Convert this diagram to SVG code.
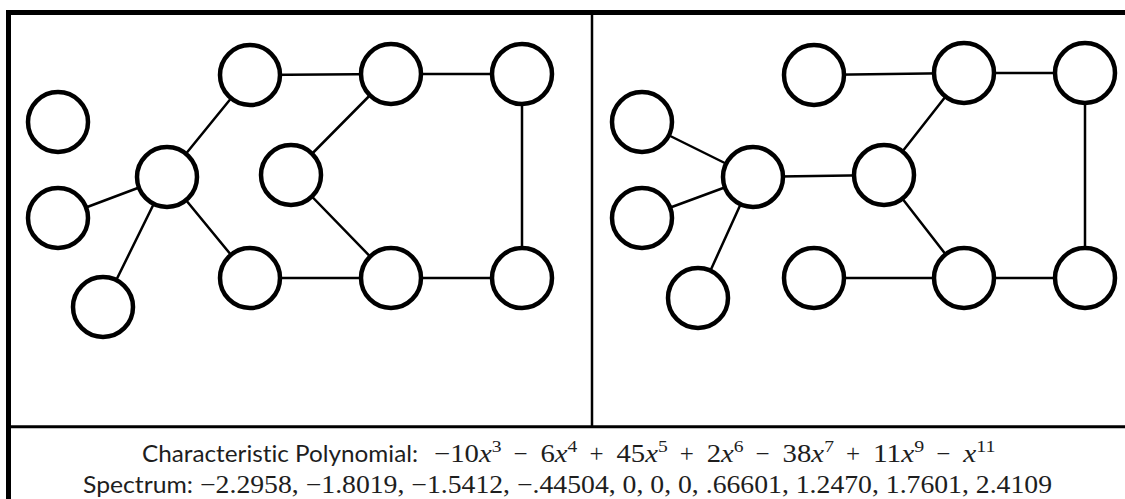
<svg xmlns="http://www.w3.org/2000/svg" width="1125" height="499" viewBox="0 0 1125 499">
<style>
.node{fill:#fff;stroke:#000;stroke-width:4.5}
.edge{stroke:#000;stroke-width:2.5;stroke-linecap:round}
.frame{stroke:#000;fill:none}
.lbl{font-family:Lato,"Open Sans","Liberation Sans",sans-serif;font-size:23px;fill:#1e1e1e;font-variant-ligatures:none}
.math{font-family:"Liberation Serif","DejaVu Serif",serif;font-size:25px;fill:#1e1e1e}
.it{font-style:italic}
.sup{font-size:17px}
</style>
<rect width="1125" height="499" fill="#fff"/>
<g id="frame">
<line class="frame" x1="8.5" y1="10" x2="8.5" y2="499" stroke-width="5"/>
<line class="frame" x1="6" y1="12.5" x2="1125" y2="12.5" stroke-width="5"/>
<line class="frame" x1="8" y1="426.7" x2="1125" y2="426.7" stroke-width="3"/>
<line class="frame" x1="592" y1="13" x2="592" y2="426" stroke-width="2.5"/>
</g>
<g id="connectors">
<line class="edge" x1="250" y1="75" x2="391" y2="74"/>
<line class="edge" x1="391" y1="74" x2="522" y2="74"/>
<line class="edge" x1="522" y1="74" x2="522" y2="278"/>
<line class="edge" x1="391" y1="74" x2="291" y2="175"/>
<line class="edge" x1="291" y1="175" x2="391" y2="278"/>
<line class="edge" x1="391" y1="278" x2="522" y2="278"/>
<line class="edge" x1="250" y1="278" x2="391" y2="278"/>
<line class="edge" x1="167" y1="177" x2="250" y2="75"/>
<line class="edge" x1="167" y1="177" x2="250" y2="278"/>
<line class="edge" x1="167" y1="177" x2="58" y2="218"/>
<line class="edge" x1="167" y1="177" x2="103" y2="307"/>
<line class="edge" x1="753" y1="177" x2="642" y2="122"/>
<line class="edge" x1="753" y1="177" x2="642" y2="218"/>
<line class="edge" x1="753" y1="177" x2="698" y2="298"/>
<line class="edge" x1="753" y1="177" x2="884" y2="175"/>
<line class="edge" x1="814" y1="75" x2="964" y2="73"/>
<line class="edge" x1="964" y1="73" x2="1085" y2="73"/>
<line class="edge" x1="964" y1="73" x2="884" y2="175"/>
<line class="edge" x1="884" y1="175" x2="964" y2="278"/>
<line class="edge" x1="1085" y1="73" x2="1085" y2="278"/>
<line class="edge" x1="814" y1="278" x2="964" y2="278"/>
<line class="edge" x1="964" y1="278" x2="1085" y2="278"/>
</g>
<g id="L-A"><circle class="node" cx="58" cy="122" r="30"/></g>
<g id="L-B"><circle class="node" cx="58" cy="218" r="30"/></g>
<g id="L-C"><circle class="node" cx="167" cy="177" r="30"/></g>
<g id="L-D"><circle class="node" cx="103" cy="307" r="30"/></g>
<g id="L-E"><circle class="node" cx="250" cy="75" r="30"/></g>
<g id="L-F"><circle class="node" cx="250" cy="278" r="30"/></g>
<g id="L-G"><circle class="node" cx="291" cy="175" r="30"/></g>
<g id="L-H"><circle class="node" cx="391" cy="74" r="30"/></g>
<g id="L-I"><circle class="node" cx="391" cy="278" r="30"/></g>
<g id="L-J"><circle class="node" cx="522" cy="74" r="30"/></g>
<g id="L-K"><circle class="node" cx="522" cy="278" r="30"/></g>
<g id="R-A"><circle class="node" cx="642" cy="122" r="30"/></g>
<g id="R-B"><circle class="node" cx="642" cy="218" r="30"/></g>
<g id="R-C"><circle class="node" cx="753" cy="177" r="30"/></g>
<g id="R-D"><circle class="node" cx="698" cy="298" r="30"/></g>
<g id="R-E"><circle class="node" cx="814" cy="75" r="30"/></g>
<g id="R-F"><circle class="node" cx="964" cy="73" r="30"/></g>
<g id="R-G"><circle class="node" cx="1085" cy="73" r="30"/></g>
<g id="R-H"><circle class="node" cx="884" cy="175" r="30"/></g>
<g id="R-I"><circle class="node" cx="814" cy="278" r="30"/></g>
<g id="R-J"><circle class="node" cx="964" cy="278" r="30"/></g>
<g id="R-K"><circle class="node" cx="1085" cy="278" r="30"/></g>
<g id="caption">
<text class="lbl" x="142" y="462" textLength="276" lengthAdjust="spacingAndGlyphs">Characteristic Polynomial:</text>
<text class="math" x="434" y="462" textLength="67.5" lengthAdjust="spacingAndGlyphs">−10<tspan class="it">x</tspan><tspan class="sup" dy="-10">3</tspan></text>
<text class="math" x="513.5" y="462">−</text>
<text class="math" x="540.5" y="462" textLength="36.9" lengthAdjust="spacingAndGlyphs">6<tspan class="it">x</tspan><tspan class="sup" dy="-10">4</tspan></text>
<text class="math" x="589.4" y="462">+</text>
<text class="math" x="616.4" y="462" textLength="51.3" lengthAdjust="spacingAndGlyphs">45<tspan class="it">x</tspan><tspan class="sup" dy="-10">5</tspan></text>
<text class="math" x="679.7" y="462">+</text>
<text class="math" x="706.7" y="462" textLength="36.9" lengthAdjust="spacingAndGlyphs">2<tspan class="it">x</tspan><tspan class="sup" dy="-10">6</tspan></text>
<text class="math" x="755.6" y="462">−</text>
<text class="math" x="782.6" y="462" textLength="51.3" lengthAdjust="spacingAndGlyphs">38<tspan class="it">x</tspan><tspan class="sup" dy="-10">7</tspan></text>
<text class="math" x="845.9" y="462">+</text>
<text class="math" x="872.9" y="462" textLength="51.3" lengthAdjust="spacingAndGlyphs">11<tspan class="it">x</tspan><tspan class="sup" dy="-10">9</tspan></text>
<text class="math" x="936.2" y="462">−</text>
<text class="math" x="963.2" y="462" textLength="32.3" lengthAdjust="spacingAndGlyphs"><tspan class="it">x</tspan><tspan class="sup" dy="-10">11</tspan></text>
<text class="lbl" x="83" y="493" textLength="110" lengthAdjust="spacingAndGlyphs">Spectrum:</text>
<text class="math" x="200" y="493" textLength="852" lengthAdjust="spacingAndGlyphs">−2.2958, −1.8019, −1.5412, −.44504, 0, 0, 0, .66601, 1.2470, 1.7601, 2.4109</text>
</g>
</svg>
